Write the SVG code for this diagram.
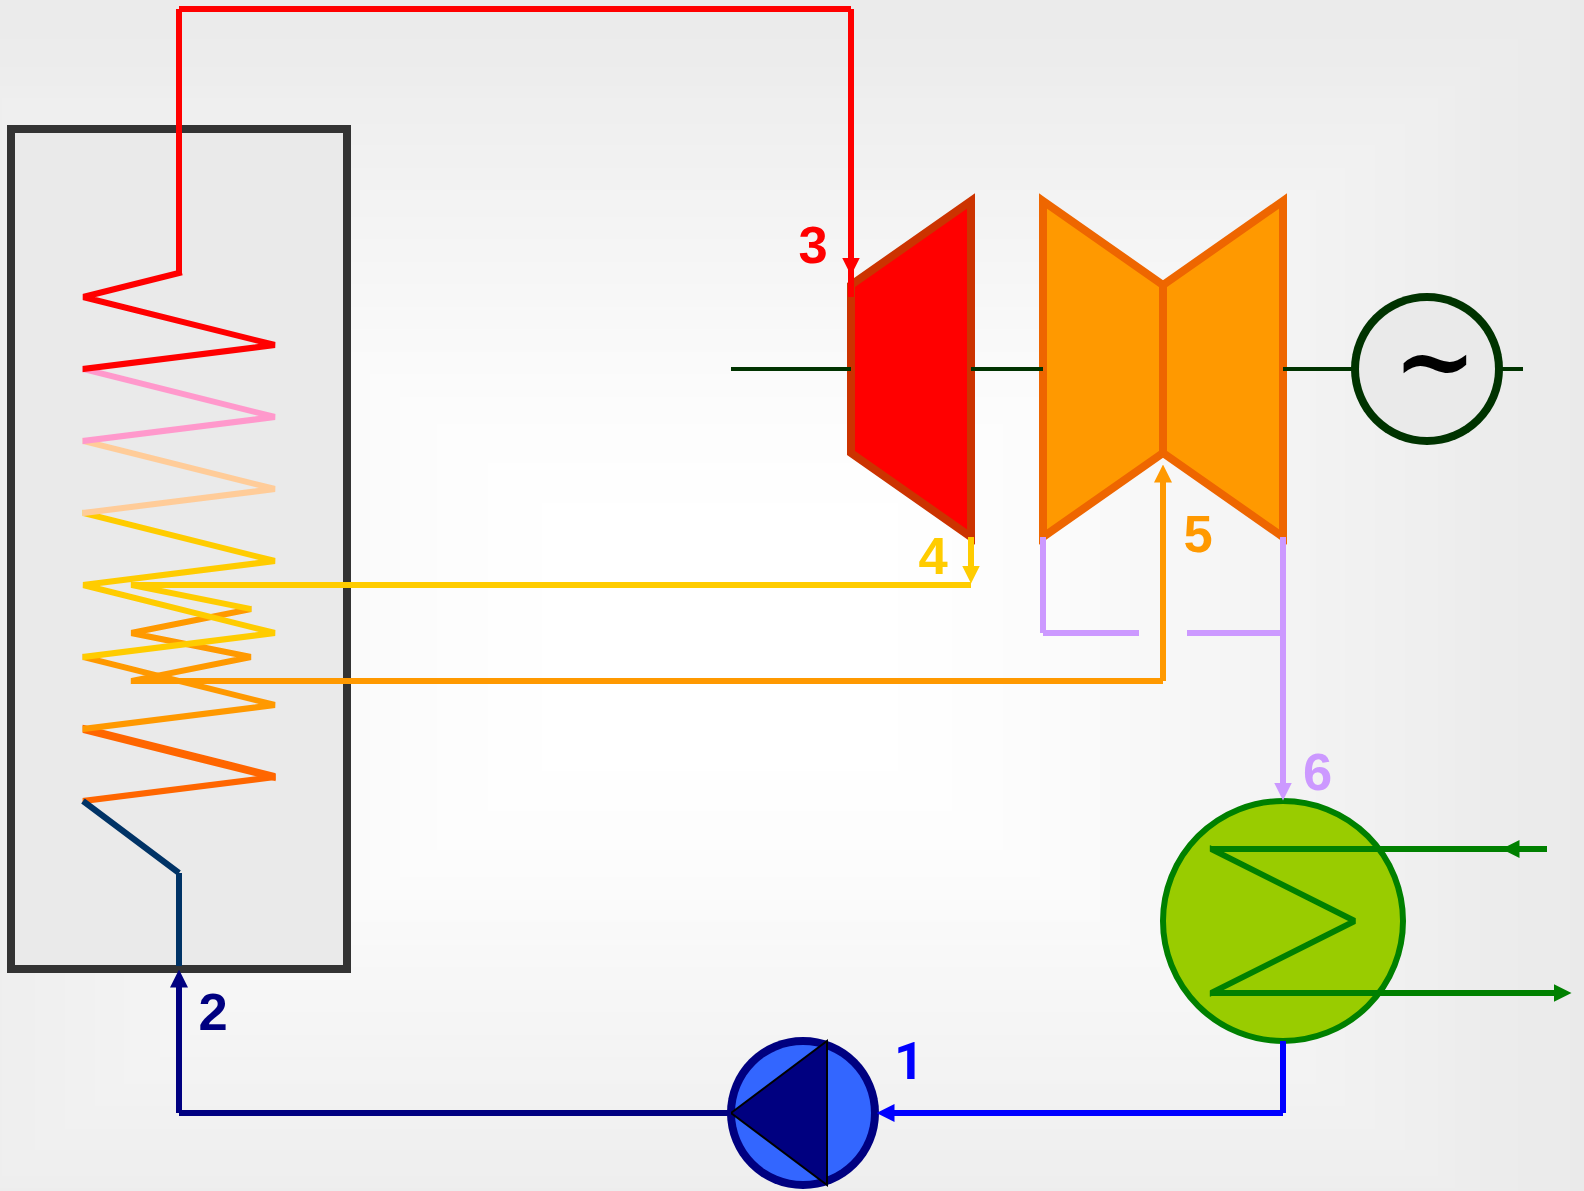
<svg xmlns="http://www.w3.org/2000/svg" width="1584" height="1191" viewBox="0 0 1584 1191">
<style>
.p{fill:none;stroke-width:6;stroke-linecap:butt}
.c{fill:none;stroke-width:6;stroke-linecap:square}
.red{stroke:#ff0000}.pink{stroke:#ff99cc}.peach{stroke:#ffcc99}.yel{stroke:#ffcc00}.ora{stroke:#ff9900}.dor{stroke:#ff6600}.deep{stroke:#003366}
.pur{stroke:#cc99ff}.nav{stroke:#000080}.blu{stroke:#0000ff}.grn{stroke:#008000}
.sh{fill:none;stroke:#003300;stroke-width:4}
.t{stroke-width:8;stroke-linejoin:miter}
.lb{font-family:"Liberation Sans",Arial,sans-serif;font-weight:700;font-size:52.5px;text-anchor:middle}
</style>
<defs>
<marker id="aRed" markerUnits="userSpaceOnUse" markerWidth="18" markerHeight="18" refX="0.5" refY="9" orient="auto"><path d="M0 0L18 9L0 18z" fill="#ff0000"/></marker>
<marker id="aYel" markerUnits="userSpaceOnUse" markerWidth="18" markerHeight="18" refX="0.5" refY="9" orient="auto"><path d="M0 0L18 9L0 18z" fill="#ffcc00"/></marker>
<marker id="aOra" markerUnits="userSpaceOnUse" markerWidth="18" markerHeight="18" refX="0.5" refY="9" orient="auto"><path d="M0 0L18 9L0 18z" fill="#ff9900"/></marker>
<marker id="aPur" markerUnits="userSpaceOnUse" markerWidth="18" markerHeight="18" refX="0.5" refY="9" orient="auto"><path d="M0 0L18 9L0 18z" fill="#cc99ff"/></marker>
<marker id="aNav" markerUnits="userSpaceOnUse" markerWidth="18" markerHeight="18" refX="0.5" refY="9" orient="auto"><path d="M0 0L18 9L0 18z" fill="#000080"/></marker>
<marker id="aBlu" markerUnits="userSpaceOnUse" markerWidth="18" markerHeight="18" refX="0.5" refY="9" orient="auto"><path d="M0 0L18 9L0 18z" fill="#0000ff"/></marker>
<marker id="aGrn" markerUnits="userSpaceOnUse" markerWidth="18" markerHeight="18" refX="0.5" refY="9" orient="auto"><path d="M0 0L18 9L0 18z" fill="#008000"/></marker>
<clipPath id="coilA"><rect x="82.6" y="250" width="193" height="600"/></clipPath>
<clipPath id="coilB"><rect x="130.8" y="570" width="120.6" height="130"/></clipPath>
<clipPath id="coilC"><rect x="1209.8" y="840" width="146" height="162"/></clipPath>
</defs>
<g id="background">
<rect x="0" y="0" width="1584" height="1191" fill="#eaeaea"/>
<rect x="-130" y="0" width="1700" height="1275" fill="#ebebeb"/>
<rect x="-78" y="38.5" width="1596" height="1197" fill="#ececec"/>
<rect x="-40" y="67" width="1520" height="1140" fill="#ededed"/>
<rect x="-15" y="85.75" width="1470" height="1102.5" fill="#eeeeee"/>
<rect x="2" y="98.5" width="1436" height="1077" fill="#efefef"/>
<rect x="35" y="123.25" width="1370" height="1027.5" fill="#f0f0f0"/>
<rect x="65" y="145.75" width="1310" height="982.5" fill="#f1f1f1"/>
<rect x="95" y="168.25" width="1250" height="937.5" fill="#f2f2f2"/>
<rect x="124" y="190" width="1192" height="894" fill="#f3f3f3"/>
<rect x="160" y="217" width="1120" height="840" fill="#f4f4f4"/>
<rect x="190" y="239.5" width="1060" height="795" fill="#f5f5f5"/>
<rect x="220" y="262" width="1000" height="750" fill="#f6f6f6"/>
<rect x="250" y="284.5" width="940" height="705" fill="#f7f7f7"/>
<rect x="280" y="307" width="880" height="660" fill="#f8f8f8"/>
<rect x="310" y="329.5" width="820" height="615" fill="#f9f9f9"/>
<rect x="340" y="352" width="760" height="570" fill="#fafafa"/>
<rect x="370" y="374.5" width="700" height="525" fill="#fbfbfb"/>
<rect x="400" y="397" width="640" height="480" fill="#fcfcfc"/>
<rect x="437" y="424.75" width="566" height="424.5" fill="#fdfdfd"/>
<rect x="488" y="463" width="464" height="348" fill="#fefefe"/>
<rect x="542" y="503.5" width="356" height="267" fill="#ffffff"/>
</g>
<g id="boiler"><rect x="11" y="129" width="336" height="840" fill="#eaeaea" stroke="#333333" stroke-width="8"/></g>
<g id="generator"><circle cx="1427" cy="369" r="76" fill="#003300"/><circle cx="1427" cy="369" r="68" fill="#eaeaea"/><text x="1435" y="394.5" font-family="'DejaVu Serif',serif" font-weight="700" font-size="100" text-anchor="middle" fill="#000000">~</text></g>
<g id="hp-turbine"><polygon class="t" points="851,285 971,201 971,537 851,453" fill="#ff0000" stroke="#cc3300"/></g>
<g id="lp-turbine"><polygon class="t" points="1043,201 1163,285 1163,453 1043,537" fill="#ff9900" stroke="#ee6600"/><polygon class="t" points="1283,201 1163,285 1163,453 1283,537" fill="#ff9900" stroke="#ee6600"/></g>
<g id="condenser"><circle cx="1283" cy="921" r="120" fill="#99cc00" stroke="#008000" stroke-width="6"/></g>
<g id="pump"><circle cx="803" cy="1113" r="76" fill="#000080"/><circle cx="803" cy="1113" r="68" fill="#3366ff"/><polygon points="731,1113 827,1041 827,1185" fill="#000080" stroke="#000000" stroke-width="2"/></g>
<g id="connectors">
<g id="shaft"><path class="sh" d="M731 369H851M971 369H1043M1283 369H1352M1502 369H1523"/></g>
<g id="inner-coil" clip-path="url(#coilB)">
<path class="c ora" d="M251 609L131 633L251 657L131 681"/>
<path class="c yel" d="M131 585L251 609"/>
</g>
<g id="outer-coil" clip-path="url(#coilA)">
<line class="c dor" x1="275" y1="777" x2="83" y2="801"/>
<line class="c dor" x1="83" y1="729" x2="275" y2="777" style="stroke-width:8"/>
<path class="c ora" d="M83 657L275 705L83 729"/>
<path class="c yel" d="M83 513L275 561L83 585L275 633L83 657"/>
<path class="c peach" d="M83 441L275 489L83 513"/>
<path class="c pink" d="M83 369L275 417L83 441"/>
<path class="c red" d="M179 273L83 297L275 345L83 369"/>
</g>
<path class="p deep" d="M83 801L179 873M179 873V966"/>
<path class="p red" d="M179 273V9M179 9H851M851 9V297"/>
<line class="p red" x1="851" y1="240" x2="851" y2="258" marker-end="url(#aRed)"/>
<path class="p red" d="M851 250V297"/>
<path class="p yel" d="M131 585H971"/>
<line class="p yel" x1="971" y1="537" x2="971" y2="566" marker-end="url(#aYel)"/>
<path class="p ora" d="M131 681H1163M1163 681V482"/>
<line class="p ora" x1="1163" y1="500" x2="1163" y2="482" marker-end="url(#aOra)"/>
<path class="p pur" d="M1043 537V633M1043 633H1139M1187 633H1283"/>
<line class="p pur" x1="1283" y1="537" x2="1283" y2="783" marker-end="url(#aPur)"/>
<path class="p blu" d="M1283 1041V1113M1283 1113H894" marker-end="url(#aBlu)"/>
<path class="p nav" d="M731 1113H179M179 1113V987" marker-end="url(#aNav)"/>
<g clip-path="url(#coilC)"><path class="c grn" d="M1211 849L1355 921L1211 993"/></g>
<path class="p grn" d="M1547 849H1211M1211 993H1554"/>
<line class="p grn" x1="1540" y1="849" x2="1519" y2="849" marker-end="url(#aGrn)"/>
<line class="p grn" x1="1540" y1="993" x2="1554" y2="993" marker-end="url(#aGrn)"/>
</g>
<g id="labels">
<text class="lb" x="813" y="263" fill="#ff0000">3</text>
<text class="lb" x="933" y="574" fill="#ffcc00">4</text>
<text class="lb" x="1198" y="552" fill="#ff9900">5</text>
<text class="lb" x="1317.5" y="790" fill="#cc99ff">6</text>
<text class="lb" x="909" y="1079" fill="#0000ff" style="font-family:Roboto,sans-serif">1</text>
<text class="lb" x="213" y="1030" fill="#000080">2</text>
</g>
</svg>
